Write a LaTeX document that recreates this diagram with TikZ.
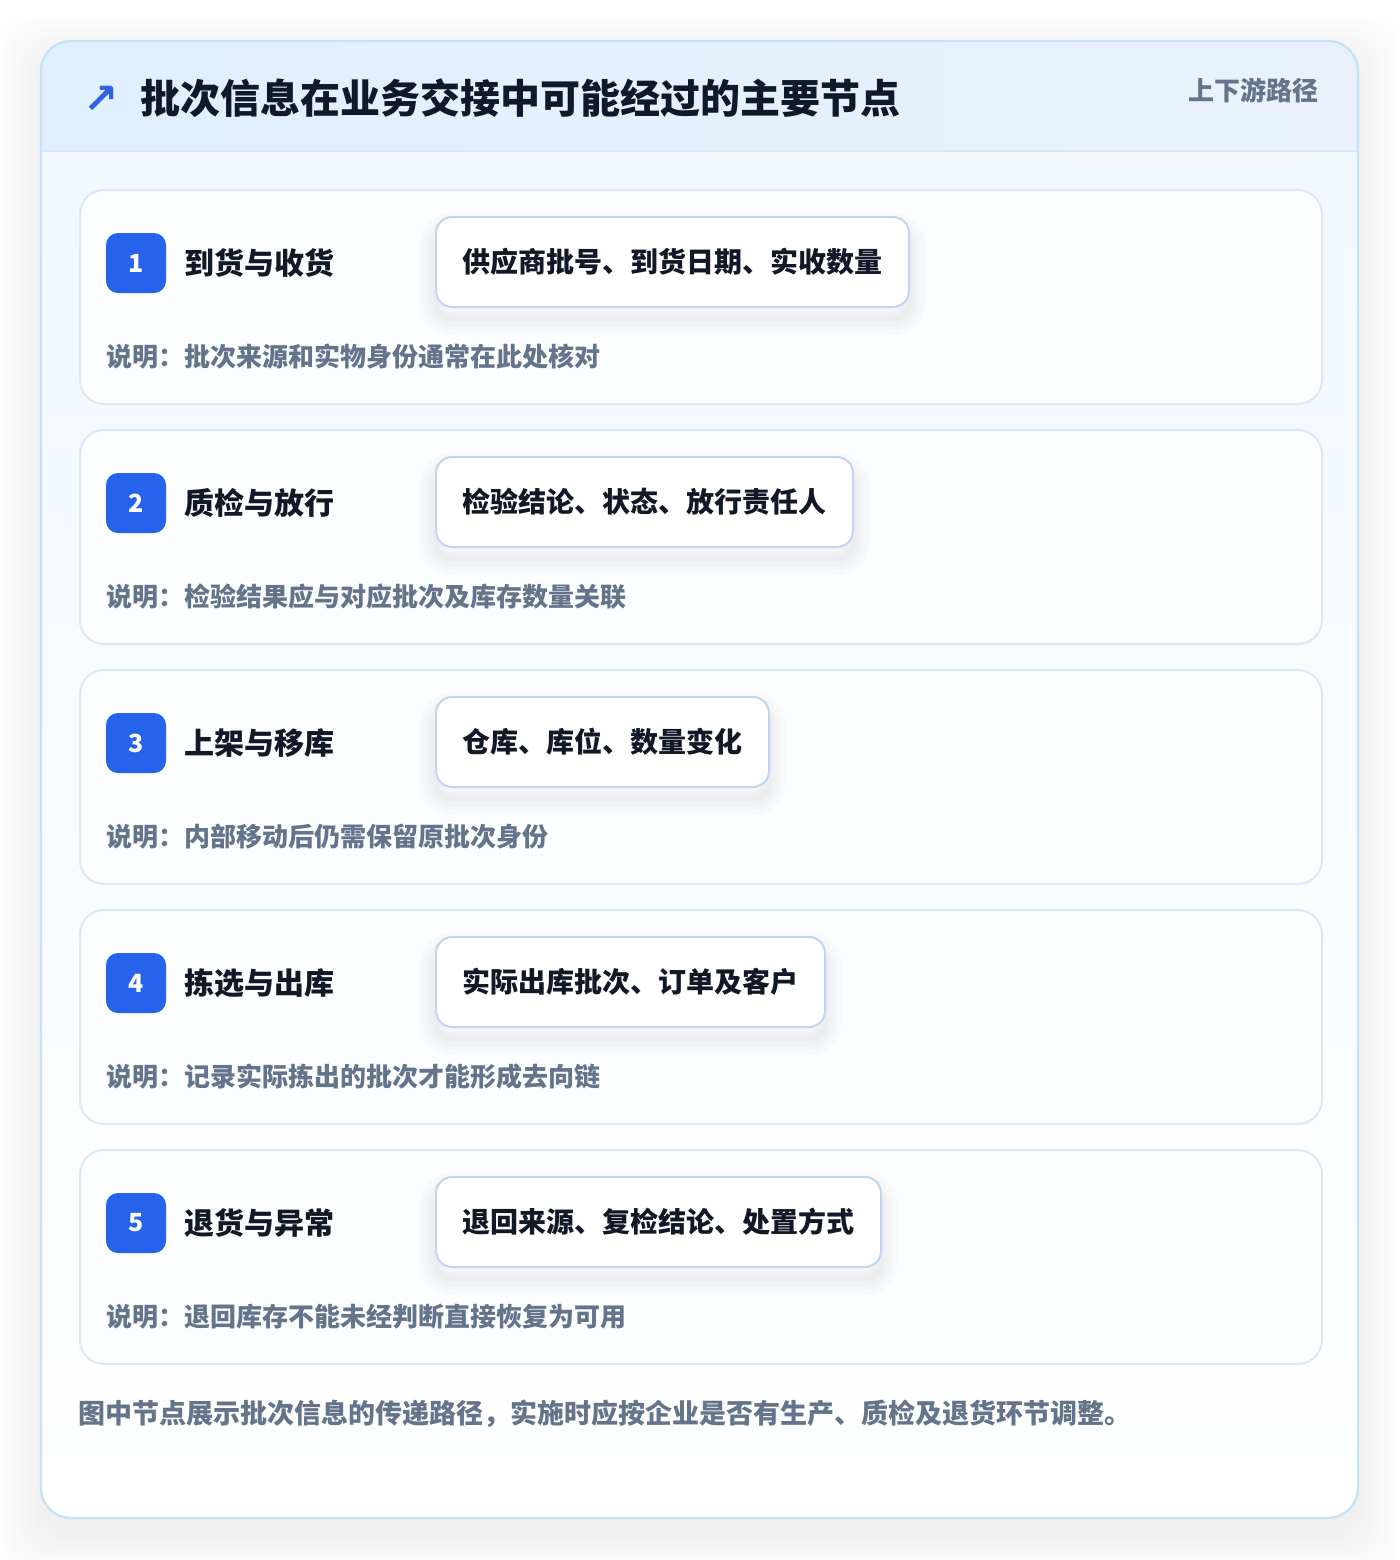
\documentclass[tikz,border=0pt]{standalone}
\usepackage{fontspec}
\setmainfont{Noto Sans CJK SC}
\newfontfamily\symfont{DejaVu Sans}

\definecolor{inkdark}{HTML}{111827}
\definecolor{slate}{HTML}{64748B}
\definecolor{badgeblue}{HTML}{2563EB}
\definecolor{arrowblue}{HTML}{2F62E4}
\definecolor{panelline}{HTML}{C5E3F6}
\definecolor{headleft}{HTML}{DFEFFD}
\definecolor{headright}{HTML}{EAF1FD}
\definecolor{headline}{HTML}{D7E8F8}
\definecolor{bodytop}{HTML}{F2F8FE}
\definecolor{cardfill}{HTML}{FCFDFF}
\definecolor{cardline}{HTML}{DAE9F8}
\definecolor{tagline}{HTML}{BFD5F1}

\begin{document}
\begin{tikzpicture}[x=0.5pt,y=-0.5pt,
    card/.style={draw=cardline,fill=cardfill,line width=1pt,rounded corners=12pt,
      minimum width=621pt,minimum height=107pt,anchor=north west,inner sep=0pt},
    badge/.style={fill=badgeblue,rounded corners=6pt,minimum size=30pt,inner sep=0pt,
      text=white,font=\bfseries\fontsize{12.5}{14}\selectfont},
    stagelabel/.style={anchor=west,inner sep=0pt,text=inkdark,
      font=\bfseries\fontsize{15}{18}\selectfont},
    softshadow/.style={preaction={draw=black,draw opacity=0.014,line width=#1,
      transform canvas={yshift=-6pt}}},
    tagbox/.style={anchor=west,draw=tagline,fill=white,line width=1pt,rounded corners=8pt,
      minimum height=45pt,inner xsep=13.25pt,text=inkdark,
      font=\bfseries\fontsize{14}{17}\selectfont,
      softshadow=16pt,softshadow=11pt,softshadow=7pt,softshadow=3pt},
    note/.style={anchor=west,inner sep=0pt,text=slate,
      font=\bfseries\fontsize{13}{16}\selectfont}]
  \useasboundingbox (0,0) rectangle (1400,1560);
  \fill[white] (0,0) rectangle (1400,1560);
  % Outer panel with its soft shadow
  \foreach \k in {0,3,...,42} {
    \fill[black,fill opacity=0.0058,rounded corners=15pt]
      (41-\k,41-\k+16) rectangle (1358+\k,1518+\k+16);
  }
  \fill[white,rounded corners=15pt] (41,41) rectangle (1358,1518);
  \begin{scope}
    \clip[rounded corners=15pt] (41,41) rectangle (1358,1518);
    \shade[top color=bodytop,bottom color=white] (41,151) rectangle (1358,1518);
    \shade[left color=headleft,right color=headright] (41,41) rectangle (1358,151);
  \end{scope}
  \draw[headline,line width=1pt] (41,151) -- (1358,151);
  \draw[panelline,line width=1.2pt,rounded corners=15pt] (41,41) rectangle (1358,1518);
  % Header
  \node[anchor=west,inner sep=0pt,text=arrowblue,font=\symfont\bfseries\fontsize{21}{24}\selectfont]
    (icon) at (83,100) {↗};
  \node[anchor=west,inner sep=0pt,text=inkdark,font=\bfseries\fontsize{20}{24}\selectfont]
    (title) at (140,98) {批次信息在业务交接中可能经过的主要节点};
  \node[anchor=east,inner sep=0pt,text=slate,font=\bfseries\fontsize{13}{16}\selectfont]
    (scopetag) at (1319,90) {上下游路径};
  % Stages
  \foreach \n/\stage/\fields/\why in {
      1/到货与收货/供应商批号、到货日期、实收数量/批次来源和实物身份通常在此处核对,
      2/质检与放行/检验结论、状态、放行责任人/检验结果应与对应批次及库存数量关联,
      3/上架与移库/仓库、库位、数量变化/内部移动后仍需保留原批次身份,
      4/拣选与出库/实际出库批次、订单及客户/记录实际拣出的批次才能形成去向链,
      5/退货与异常/退回来源、复检结论、处置方式/退回库存不能未经判断直接恢复为可用} {
    \pgfmathsetmacro\dy{240*(\n-1)}
    \node[card] (card\n) at (79,189+\dy) {};
    \node[badge] (badge\n) at (136,263+\dy) {\n};
    \node[stagelabel] (stage\n) at (184,263+\dy) {\stage};
    \node[tagbox] (fields\n) at (435,262+\dy) {\fields};
    \node[note] (note\n) at (106,357+\dy) {说明：\why};
  }
  % Footer
  \node[note,font=\bfseries\fontsize{13.5}{16}\selectfont] (footer) at (78,1414)
    {图中节点展示批次信息的传递路径，实施时应按企业是否有生产、质检及退货环节调整。};
\end{tikzpicture}
\end{document}
